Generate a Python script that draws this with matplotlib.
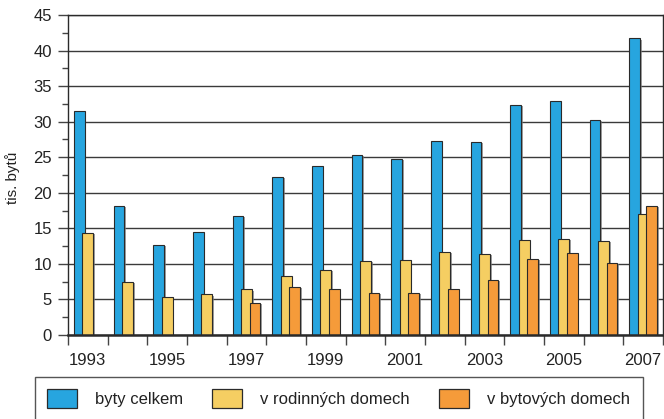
import matplotlib
matplotlib.use("Agg")
import matplotlib.pyplot as plt
import matplotlib.patheffects as pe
from matplotlib.patches import Patch
from matplotlib.ticker import MultipleLocator, FixedLocator
import numpy as np

plt.rcParams['font.family'] = ['Liberation Sans', 'DejaVu Sans']

years = list(range(1993, 2008))
byty_celkem = [31.5, 18.1, 12.7, 14.5, 16.7, 22.2, 23.8, 25.3, 24.8, 27.3, 27.1, 32.3, 32.9, 30.2, 41.7]
rodinne = [14.3, 7.4, 5.4, 5.7, 6.4, 8.3, 9.2, 10.4, 10.6, 11.7, 11.4, 13.3, 13.5, 13.2, 17.0]
bytove = [0, 0, 0, 0, 4.5, 6.8, 6.5, 5.9, 5.9, 6.4, 7.7, 10.7, 11.6, 10.1, 18.2]
series_labels = ['byty celkem', 'v rodinných domech', 'v bytových domech']
colors = ['#27A5DF', '#F5CE62', '#F59B3A']
ylabel = 'tis. bytů'

fig = plt.figure(figsize=(6.64, 4.19), dpi=100)
ax = fig.add_axes([68/664, 1-335/419, 595/664, 320/419])

x = np.arange(len(years))
offsets = [-0.215, 0.0, 0.215]
width = 0.27
shadow = [pe.SimplePatchShadow(offset=(1.2, -0.8), shadow_rgbFace='#777777', alpha=0.7), pe.Normal()]
for k, vals in enumerate([byty_celkem, rodinne, bytove]):
    v = np.array(vals, dtype=float)
    mask = v > 0
    bars = ax.bar(x[mask] + offsets[k], v[mask], width=width, color=colors[k],
                  edgecolor='#2a2a2a', linewidth=0.8, zorder=3 + k)
    for b in bars:
        b.set_path_effects(shadow)

ax.set_xlim(-0.5, len(years) - 0.5)
ax.set_ylim(0, 45)
ax.yaxis.set_major_locator(MultipleLocator(5))
ax.yaxis.set_minor_locator(MultipleLocator(2.5))
ax.grid(axis='y', which='major', color='#3a3a3a', linewidth=1.0, zorder=1)
ax.set_axisbelow(True)

# x ticks: boundaries as major (no labels), odd years labelled at centers
bounds = np.arange(-0.5, len(years), 1.0)
ax.xaxis.set_major_locator(FixedLocator(bounds))
ax.set_xticklabels([''] * len(bounds))
lab_pos = [i for i, y in enumerate(years) if y % 2 == 1]
ax.xaxis.set_minor_locator(FixedLocator(lab_pos))
ax.set_xticklabels([str(years[i]) for i in lab_pos], minor=True)
ax.tick_params(axis='x', which='major', direction='out', length=7.5, width=1.0, color='#444444')
ax.tick_params(axis='x', which='minor', length=0, pad=13, labelsize=12, labelcolor='#222222')
ax.tick_params(axis='y', which='major', direction='out', length=7.5, width=1.0, color='#444444',
               labelsize=12, labelcolor='#222222', pad=4)
ax.tick_params(axis='y', which='minor', direction='out', length=4.5, width=1.0, color='#444444')

for s in ['left', 'top', 'right']:
    ax.spines[s].set_color('#2a2a2a')
    ax.spines[s].set_linewidth(1.0)
ax.spines['bottom'].set_color('#2a2a2a')
ax.spines['bottom'].set_linewidth(1.8)
ax.spines['bottom'].set_zorder(10)

ax.set_ylabel(ylabel, fontsize=11, color='#222222')
ax.yaxis.set_label_coords(-0.081, 0.49)

handles = [Patch(facecolor=colors[k], edgecolor='#2a2a2a', linewidth=0.9) for k in range(3)]
leg = fig.legend(handles, series_labels, loc='upper left', bbox_to_anchor=(34.5/664, 1-376.7/419),
                 ncol=3, fontsize=12, frameon=True, fancybox=False, borderaxespad=0,
                 handlelength=1.8, handleheight=1.32, handletextpad=1.08, columnspacing=1.75,
                 borderpad=0.75)
leg.get_frame().set_edgecolor('#2a2a2a')
leg.get_frame().set_linewidth(1.0)
for t in leg.get_texts():
    t.set_color('#222222')

fig.savefig('out.png', dpi=100)
